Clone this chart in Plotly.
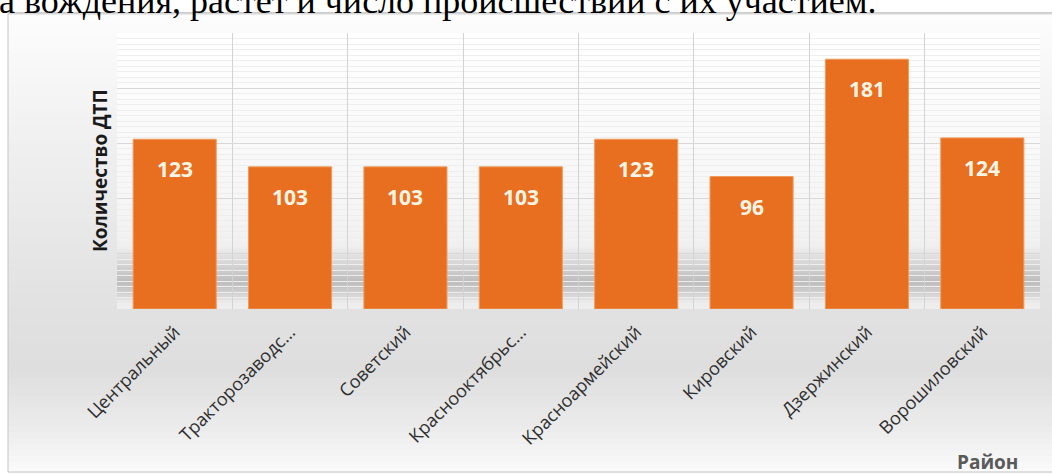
import plotly.graph_objects as go

# Road accidents by city district
districts = ["Центральный", "Тракторозаводс...", "Советский", "Краснооктябрьс...",
             "Красноармейский", "Кировский", "Дзержинский", "Ворошиловский"]
accidents = [123, 103, 103, 103, 123, 96, 181, 124]

y_title = "Количество ДТП"
x_title = "Район"
doc_line = "а вождения, растет и число происшествий с их участием."

W, H = 1052, 474
ML, MR, MT, MB = 117, 12, 33, 165
PW, PH = W - ML - MR, H - MT - MB


def px_x(px):
    return (px - ML) / PW


def px_y(py):
    return (H - MB - py) / PH


def mix(c1, c2, t):
    a = [int(c1[i:i + 2], 16) for i in (1, 3, 5)]
    b = [int(c2[i:i + 2], 16) for i in (1, 3, 5)]
    return "#" + "".join(f"{round(a[k] + (b[k] - a[k]) * t):02x}" for k in range(3))


def ramp(stops, y):
    for (y0, c0), (y1, c1) in zip(stops, stops[1:]):
        if y0 <= y <= y1:
            return mix(c0, c1, (y - y0) / (y1 - y0))
    return stops[-1][1]


shapes = []

# chart frame: soft vertical gray gradient
frame_stops = [(12, "#fdfdfd"), (150, "#efefef"), (300, "#e2e2e2"),
               (370, "#dedede"), (430, "#ececec"), (474, "#fbfbfb")]
step = 6
for y0 in range(12, 474, step):
    y1 = min(y0 + step, 474)
    shapes.append(dict(type="rect", xref="paper", yref="paper", layer="below",
                       x0=px_x(8), x1=px_x(W + 5), y0=px_y(y1), y1=px_y(y0),
                       fillcolor=ramp(frame_stops, (y0 + y1) / 2), line_width=0))

# plot area: lighter gradient plus the floor shadow behind the bars
plot_stops = [(33, "#ffffff"), (200, "#f6f6f6"), (246, "#f0f0f0"), (268, "#cfcfcf"),
              (282, "#bdbdbd"), (294, "#d2d2d2"), (302, "#ececec"), (309, "#efefef")]
for y0 in range(33, 309, 3):
    y1 = min(y0 + 3, 309)
    shapes.append(dict(type="rect", xref="x domain", yref="y domain", layer="below",
                       x0=0, x1=1, y0=px_y(y1), y1=px_y(y0),
                       fillcolor=ramp(plot_stops, (y0 + y1) / 2), line_width=0))

# frame border and top edge shadow
shapes.append(dict(type="rect", xref="paper", yref="paper", layer="above",
                   x0=px_x(8), x1=px_x(W + 5), y0=px_y(472), y1=px_y(12.5),
                   line=dict(color="#c4c4c4", width=1), fillcolor="rgba(0,0,0,0)"))
shapes.append(dict(type="line", xref="paper", yref="paper", layer="above",
                   x0=px_x(8), x1=px_x(W + 5), y0=px_y(13.5), y1=px_y(13.5),
                   line=dict(color="#d6d6d6", width=2)))

fig = go.Figure()
fig.add_trace(go.Bar(
    x=districts, y=accidents, width=0.72,
    marker=dict(color="#E86F1F", line=dict(color="#F19A5C", width=1)),
    hoverinfo="x+y",
))

annotations = []
for i, v in enumerate(accidents):
    annotations.append(dict(x=i, y=v, xref="x", yref="y", text=str(v), showarrow=False,
                            yanchor="middle", yshift=-30,
                            font=dict(family="Open Sans", size=21, color="#FFF5E6", weight="bold")))

annotations.append(dict(xref="paper", yref="paper", x=px_x(100), y=0.5, text=y_title,
                        textangle=-90, showarrow=False, xanchor="center", yanchor="middle",
                        font=dict(family="Open Sans", size=19, color="#1a1a1a", weight="bold")))
annotations.append(dict(xref="paper", yref="paper", x=px_x(987), y=px_y(462), text=x_title,
                        showarrow=False, xanchor="center", yanchor="middle",
                        font=dict(family="Open Sans", size=19, color="#5a5a5a", weight="bold")))
annotations.append(dict(xref="paper", yref="paper", x=px_x(-3), y=px_y(1), text=doc_line,
                        showarrow=False, xanchor="left", yanchor="middle",
                        font=dict(family="Liberation Serif", size=36, color="#000000")))

fig.update_layout(
    width=W, height=H,
    margin=dict(l=ML, r=MR, t=MT, b=MB, pad=0),
    paper_bgcolor="#ffffff",
    plot_bgcolor="rgba(0,0,0,0)",
    showlegend=False,
    shapes=shapes,
    annotations=annotations,
    xaxis=dict(
        type="category", tickson="boundaries", ticks="", tickangle=-45,
        showgrid=True, gridcolor="#d3d3d3", gridwidth=1,
        showline=False, zeroline=False,
        tickfont=dict(family="Open Sans", size=18, color="#2e2e2e"),
        ticklabelstandoff=8,
    ),
    yaxis=dict(
        range=[0, 200], dtick=40, showticklabels=False, ticks="",
        showgrid=True, gridcolor="#d8d8d8", gridwidth=1, zeroline=False,
        minor=dict(dtick=4, showgrid=True, gridcolor="#eeeeee", gridwidth=1),
    ),
)

fig.write_html("out.html")
